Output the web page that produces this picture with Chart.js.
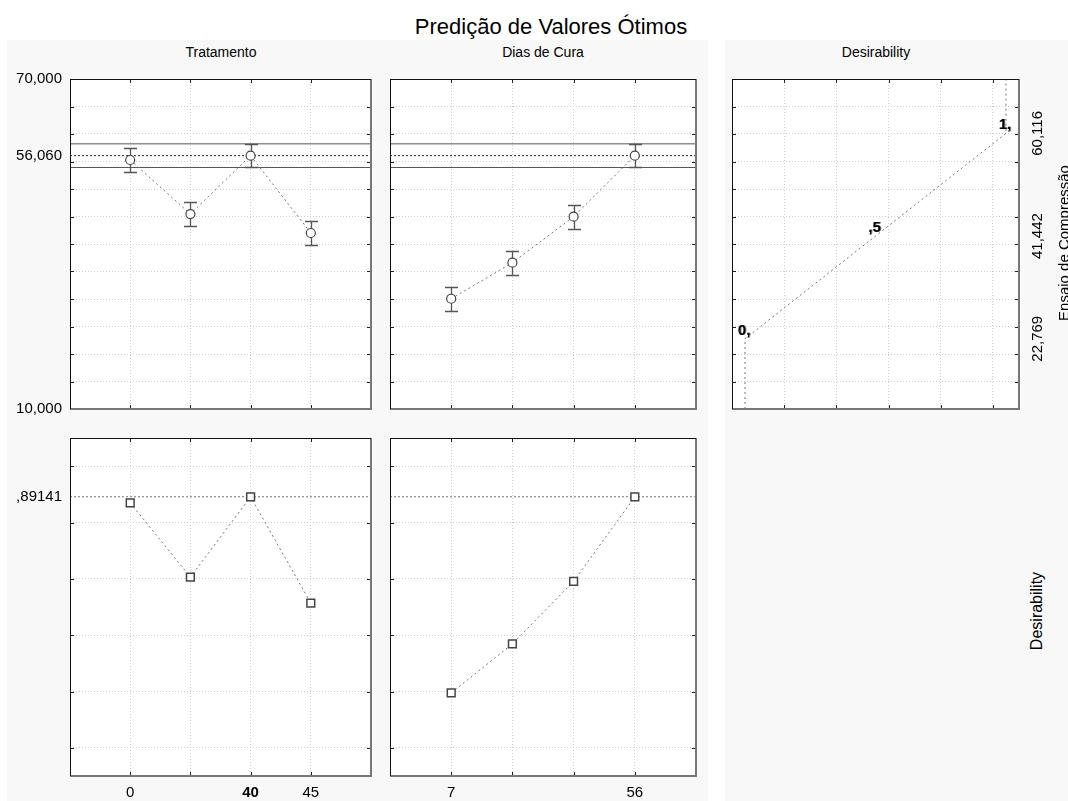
<!DOCTYPE html>
<html>
<head>
<meta charset="utf-8">
<title>Predição de Valores Ótimos</title>
<script src="https://cdn.jsdelivr.net/npm/chart.js@4.4.1/dist/chart.umd.min.js"></script>
<style>
  html, body { margin: 0; padding: 0; background: #fff; }
  body { width: 1068px; height: 801px; position: relative; overflow: hidden;
         font-family: "Liberation Sans", Arial, sans-serif; color: #000; }
  .bg { position: absolute; background: #f8f8f8; }
  .txt { position: absolute; white-space: nowrap; transform: translateX(-50%); }
  canvas { position: absolute; }
</style>
</head>
<body>
<div class="bg" style="left:7px;top:40px;width:701px;height:761px"></div>
<div class="bg" style="left:725px;top:40px;width:343px;height:761px"></div>

<div class="txt" style="left:551px;top:16px;font-size:22px;line-height:22px">Predição de Valores Ótimos</div>
<div class="txt" style="left:221px;top:45px;font-size:14px;line-height:14px">Tratamento</div>
<div class="txt" style="left:543px;top:45px;font-size:14px;line-height:14px">Dias de Cura</div>
<div class="txt" style="left:876px;top:45px;font-size:14px;line-height:14px">Desirability</div>
<div style="position:absolute;left:1037px;top:611px;font-size:16px;line-height:16px;white-space:nowrap;transform:translate(-50%,-50%) rotate(-90deg)">Desirability</div>

<canvas id="pA" width="380" height="350" style="left:0;top:70px"></canvas>
<canvas id="pB" width="330" height="350" style="left:380px;top:70px"></canvas>
<canvas id="pC" width="348" height="350" style="left:720px;top:70px"></canvas>
<canvas id="pD" width="380" height="381" style="left:0;top:420px"></canvas>
<canvas id="pE" width="330" height="381" style="left:380px;top:420px"></canvas>

<script>
// factor levels (labels under the bottom panels)
const treatmentLevels = ['0', '', '40', '45'];
const curaLevels = ['7', '', '', '56'];
const levelPositions = [0, 1, 2, 3];
const treatmentCurrent = '40';

// predicted Ensaio de Compressão at each level, with error half-widths
const treatmentMeans = [55.27, 45.45, 56.06, 42.0];
const treatmentErr = [2.15, 2.15, 2.15, 2.15];
const curaMeans = [30.05, 36.6, 44.96, 56.06];
const curaErr = [2.15, 2.15, 2.15, 2.15];

// desirability at each level
const treatmentDesir = [0.870, 0.606, 0.891, 0.514];
const curaDesir = [0.195, 0.369, 0.591, 0.891];

// optimum and its confidence band
const optimumValue = 56.06;
const optimumBand = [53.91, 58.21];
const optimumDesir = 0.89141;

// desirability function of the response
const desirX = [0, 0, 0.5, 1, 1];
const desirY = [10, 22.769, 41.442, 60.116, 70];
const desirMarks = ['', '0,', ',5', '1,', ''];
const responseTicks = [22.769, 41.442, 60.116];
const responseTickLabels = ['22,769', '41,442', '60,116'];

// axis ticks
const responseGrid = [10, 15, 20, 25, 30, 35, 40, 45, 50, 55, 60, 65, 70];
const responseLabelValues = [10, 56.06, 70];
const responseLabels = ['10,000', '56,060', '70,000'];
const desirGrid = [-0.1, 0, 0.2, 0.4, 0.6, 0.8, 1, 1.1];
const desirLabelValues = [0.89141];
const desirLabels = [',89141'];
const levelGrid = [-1, 0, 1, 2, 3, 4];
const desirAxisGrid = [-0.05, 0.15, 0.35, 0.55, 0.75, 0.95, 1.05];

const FONT = '"Liberation Sans", Arial, sans-serif';
const GRID = '#d0d0d0';

function tickList(grid, extra) {
    const vals = grid.slice();
    extra.forEach(v => { if (!vals.includes(v)) vals.push(v); });
    vals.sort((a, b) => a - b);
    return vals.map(v => ({ value: v }));
}

function axis(o) {
    const lv = o.labelValues || [];
    return {
        type: 'linear',
        position: o.position,
        min: o.min,
        max: o.max,
        afterBuildTicks: s => { s.ticks = tickList(o.grid, lv); },
        afterFit: s => {
            if (o.position === 'left') s.width = o.size;
            else s.height = o.size;
            // labels may overflow the plot area, don't let them shrink it
            s.paddingTop = 0; s.paddingBottom = 0;
            s.paddingLeft = 0; s.paddingRight = 0;
        },
        grid: {
            drawTicks: false,
            color: c => (c.tick && o.grid.includes(c.tick.value)) ? GRID : 'rgba(0,0,0,0)'
        },
        border: { display: false, dash: [1, 2] },
        ticks: {
            display: !!o.labelTexts,
            autoSkip: false,
            maxRotation: 0,
            minRotation: 0,
            padding: o.padding || 0,
            color: '#000',
            font: c => {
                const i = c.tick ? lv.indexOf(c.tick.value) : -1;
                const bold = o.bold && i >= 0 && o.labelTexts[i] === o.bold;
                return { family: FONT, size: 15, weight: bold ? 'bold' : 'normal' };
            },
            callback: v => {
                const i = lv.indexOf(v);
                return i >= 0 ? o.labelTexts[i] : '';
            }
        }
    };
}

function panelPlugin(e) {
    return {
        id: 'panel',
        beforeDraw(chart) {
            const a = chart.chartArea, ctx = chart.ctx;
            ctx.save();
            ctx.fillStyle = '#fff';
            ctx.fillRect(a.left, a.top, a.right - a.left, a.bottom - a.top);
            ctx.restore();
        },
        beforeDatasetsDraw(chart) {
            if (!e.errors) return;
            const ctx = chart.ctx, xs = chart.scales.x, ys = chart.scales.y;
            const pts = chart.data.datasets[0].data;
            ctx.save();
            ctx.strokeStyle = '#555';
            ctx.lineWidth = 1.3;
            pts.forEach((p, i) => {
                const px = Math.round(xs.getPixelForValue(p.x)) + 0.5;
                const y1 = Math.round(ys.getPixelForValue(p.y + e.errors[i])) + 0.5;
                const y2 = Math.round(ys.getPixelForValue(p.y - e.errors[i])) + 0.5;
                ctx.beginPath();
                ctx.moveTo(px, y1); ctx.lineTo(px, y2);
                ctx.moveTo(px - 6.5, y1); ctx.lineTo(px + 6.5, y1);
                ctx.moveTo(px - 6.5, y2); ctx.lineTo(px + 6.5, y2);
                ctx.stroke();
            });
            ctx.restore();
        },
        afterDraw(chart) {
            const a = chart.chartArea, ctx = chart.ctx;
            const xs = chart.scales.x, ys = chart.scales.y;
            const line = (x1, y1, x2, y2) => { ctx.beginPath(); ctx.moveTo(x1, y1); ctx.lineTo(x2, y2); ctx.stroke(); };
            ctx.save();

            // small inner ticks on the frame
            ctx.strokeStyle = '#222';
            ctx.lineWidth = 1;
            e.xMarks.forEach(v => {
                const px = Math.round(xs.getPixelForValue(v)) + 0.5;
                line(px, a.top, px, a.top + 4);
                line(px, a.bottom - 4, px, a.bottom);
            });
            e.yMarks.forEach(v => {
                const py = Math.round(ys.getPixelForValue(v)) + 0.5;
                line(a.left, py, a.left + 4, py);
                line(a.right - 4, py, a.right, py);
            });

            // frame: dark top/left, grey right/bottom
            ctx.strokeStyle = '#777';
            ctx.lineWidth = 2;
            line(a.right, a.top, a.right, a.bottom + 1);
            line(a.left, a.bottom, a.right + 1, a.bottom);
            ctx.strokeStyle = '#111';
            ctx.lineWidth = 1;
            line(a.left, a.top + 0.5, a.right, a.top + 0.5);
            line(a.left + 0.5, a.top, a.left + 0.5, a.bottom);

            // labels on the desirability function
            if (e.pointLabels) {
                const pts = chart.data.datasets[0].data;
                ctx.font = 'bold 15px ' + FONT;
                ctx.textAlign = 'center';
                ctx.textBaseline = 'alphabetic';
                e.pointLabels.forEach((t, i) => {
                    if (!t) return;
                    const px = xs.getPixelForValue(pts[i].x) - 1;
                    const py = ys.getPixelForValue(pts[i].y) - 4;
                    ctx.fillStyle = '#888';
                    ctx.fillText(t, px + 1, py);
                    ctx.fillStyle = '#000';
                    ctx.fillText(t, px, py);
                });
            }

            // rotated response ticks and title on the right
            if (e.side) {
                ctx.fillStyle = '#000';
                ctx.textAlign = 'center';
                ctx.textBaseline = 'alphabetic';
                ctx.font = '15px ' + FONT;
                e.side.values.forEach((v, i) => {
                    ctx.save();
                    ctx.translate(a.right + 23, ys.getPixelForValue(v));
                    ctx.rotate(-Math.PI / 2);
                    ctx.fillText(e.side.labels[i], 0, 0);
                    ctx.restore();
                });
                ctx.save();
                ctx.translate(a.right + 50, (a.top + a.bottom) / 2 - 1);
                ctx.rotate(-Math.PI / 2);
                ctx.fillText(e.side.title, 0, 0);
                ctx.restore();
            }
            ctx.restore();
        }
    };
}

function hline(y, x0, x1, color, dash) {
    return {
        data: [{ x: x0, y: y }, { x: x1, y: y }],
        borderColor: color, borderWidth: 1, borderDash: dash,
        pointRadius: 0
    };
}

function profile(values, style) {
    return {
        data: values.map((v, i) => ({ x: levelPositions[i], y: v })),
        borderColor: '#777', borderWidth: 1, borderDash: [2, 3],
        pointStyle: style, pointRadius: style === 'rect' ? 5.5 : 4.5,
        pointBorderColor: '#444', pointBorderWidth: style === 'rect' ? 1.5 : 1.2,
        pointBackgroundColor: '#fff'
    };
}

function makePanel(id, pad, xAxis, yAxis, datasets, extra) {
    return new Chart(document.getElementById(id).getContext('2d'), {
        type: 'line',
        data: { datasets: datasets },
        options: {
            responsive: false,
            maintainAspectRatio: false,
            animation: false,
            events: [],
            layout: { padding: pad, autoPadding: false },
            plugins: { legend: { display: false }, tooltip: { enabled: false } },
            scales: { x: xAxis, y: yAxis }
        },
        plugins: [panelPlugin(extra)]
    });
}

const levelMarks = levelGrid.slice(1, -1);
const responseMarks = responseGrid.slice(1, -1);
const desirMarksY = desirGrid.slice(1, -1);

// top row: Ensaio de Compressão
makePanel('pA', { left: 0, top: 9, right: 9, bottom: 11 },
    axis({ position: 'bottom', size: 0, min: -1, max: 4, grid: levelGrid }),
    axis({ position: 'left', size: 70, padding: 8, min: 10, max: 70, grid: responseGrid,
           labelValues: responseLabelValues, labelTexts: responseLabels }),
    [profile(treatmentMeans, 'circle'),
     hline(optimumValue, -1, 4, '#222', [2, 2]),
     hline(optimumBand[0], -1, 4, '#555', []),
     hline(optimumBand[1], -1, 4, '#555', [])],
    { errors: treatmentErr, xMarks: levelMarks, yMarks: responseMarks });

makePanel('pB', { left: 10, top: 9, right: 14, bottom: 11 },
    axis({ position: 'bottom', size: 0, min: -1, max: 4, grid: levelGrid }),
    axis({ position: 'left', size: 0, min: 10, max: 70, grid: responseGrid }),
    [profile(curaMeans, 'circle'),
     hline(optimumValue, -1, 4, '#222', [2, 2]),
     hline(optimumBand[0], -1, 4, '#555', []),
     hline(optimumBand[1], -1, 4, '#555', [])],
    { errors: curaErr, xMarks: levelMarks, yMarks: responseMarks });

makePanel('pC', { left: 12, top: 9, right: 49, bottom: 11 },
    axis({ position: 'bottom', size: 0, min: -0.05, max: 1.05, grid: desirAxisGrid }),
    axis({ position: 'left', size: 0, min: 10, max: 70, grid: responseGrid }),
    [{ data: desirX.map((x, i) => ({ x: x, y: desirY[i] })),
       borderColor: '#777', borderWidth: 1, borderDash: [2, 3], pointRadius: 0 }],
    { pointLabels: desirMarks, xMarks: desirAxisGrid.slice(1, -1), yMarks: responseMarks,
      side: { values: responseTicks, labels: responseTickLabels, title: 'Ensaio de Compressão' } });

// bottom row: desirability
makePanel('pD', { left: 0, top: 18, right: 9, bottom: 0 },
    axis({ position: 'bottom', size: 25, padding: 8, min: -1, max: 4, grid: levelGrid,
           labelValues: levelPositions, labelTexts: treatmentLevels, bold: treatmentCurrent }),
    axis({ position: 'left', size: 70, padding: 8, min: -0.1, max: 1.1, grid: desirGrid,
           labelValues: desirLabelValues, labelTexts: desirLabels }),
    [profile(treatmentDesir, 'rect'),
     hline(optimumDesir, -1, 4, '#777', [2, 2])],
    { xMarks: levelMarks, yMarks: desirMarksY });

makePanel('pE', { left: 10, top: 18, right: 14, bottom: 0 },
    axis({ position: 'bottom', size: 25, padding: 8, min: -1, max: 4, grid: levelGrid,
           labelValues: levelPositions, labelTexts: curaLevels }),
    axis({ position: 'left', size: 0, min: -0.1, max: 1.1, grid: desirGrid }),
    [profile(curaDesir, 'rect'),
     hline(optimumDesir, -1, 4, '#777', [2, 2])],
    { xMarks: levelMarks, yMarks: desirMarksY });
</script>
</body>
</html>
